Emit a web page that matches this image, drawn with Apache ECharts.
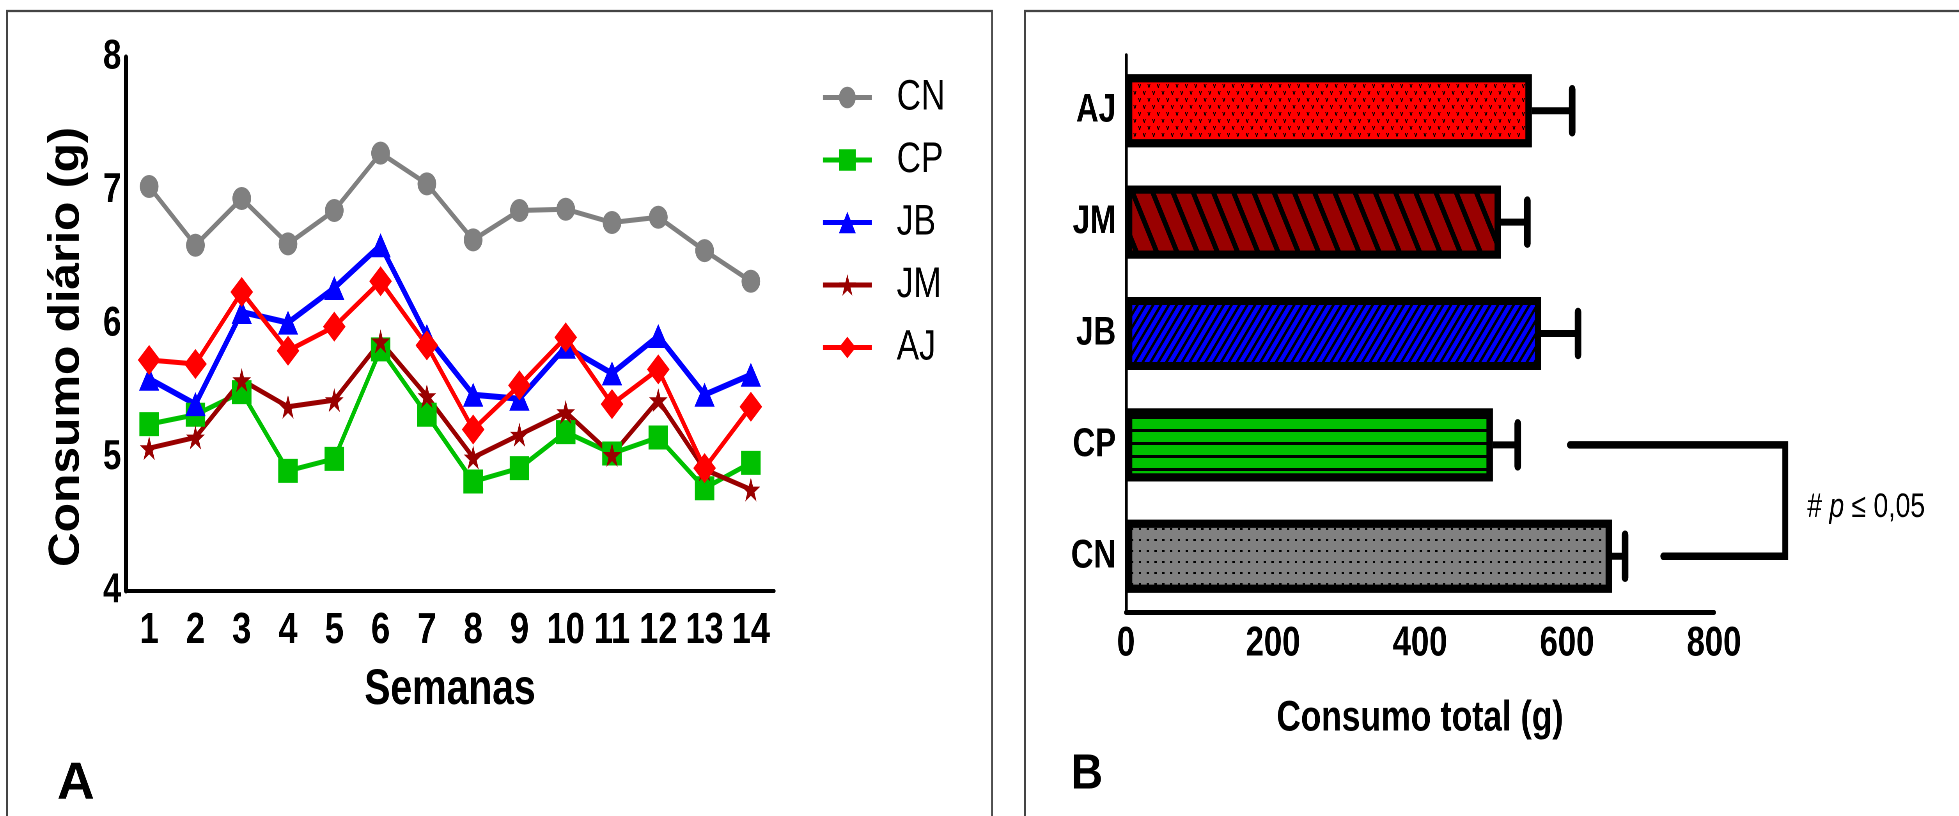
<!DOCTYPE html>
<html>
<head>
<meta charset="utf-8">
<script src="https://cdn.jsdelivr.net/npm/echarts@6/dist/echarts.min.js"></script>
<style>
html,body{margin:0;padding:0;background:#fff;overflow:hidden;width:1959px;height:816px;}
#c{width:2512px;height:816px;transform:scaleX(0.78);transform-origin:0 0;}
</style>
</head>
<body>
<div id="c"></div>
<script>
// ---------- data ----------
const weeks = ['1','2','3','4','5','6','7','8','9','10','11','12','13','14'];
const CN = [7.03,6.59,6.94,6.60,6.85,7.28,7.05,6.63,6.85,6.86,6.76,6.80,6.55,6.32];
const CP = [5.25,5.32,5.49,4.90,4.99,5.81,5.32,4.82,4.92,5.19,5.03,5.15,4.77,4.96];
const JB = [5.59,5.40,6.09,6.01,6.27,6.59,5.91,5.47,5.44,5.83,5.63,5.91,5.47,5.62];
const JM = [5.07,5.15,5.58,5.38,5.43,5.87,5.46,5.00,5.17,5.34,5.02,5.43,4.91,4.76];
const AJ = [5.73,5.70,6.24,5.80,5.98,6.32,5.84,5.21,5.54,5.90,5.40,5.66,4.92,5.38];
const yTicksA = [4,5,6,7,8];

const groups = ['CN','CP','JB','JM','AJ'];          // bottom -> top
const totals = [661,499,565,510,552];
const totalErr = [18,34,50,36,55];
const xTicksB = [0,200,400,600,800];
const sigPair = ['CP','CN'];
const sigLabel = ['# ', 'p', ' ≤ 0,05'];

// ---------- styles ----------
// The whole figure is drawn horizontally condensed (CSS scaleX), as in the reference.
const S = 0.78;
const X = v => v / S;            // screen x -> drawing x
const BOLD = "'Liberation Sans', Arial, sans-serif";
const colors = {CN:'#808080', CP:'#00C000', JB:'#0000FF', JM:'#990000', AJ:'#FF0000'};
const symbols = {
  CN:{symbol:'circle', size:[24,23]},
  CP:{symbol:'rect', size:[25,24]},
  JB:{symbol:'triangle', size:[26,24]},
  JM:{symbol:'path://M50,0 L61,35 L98,35 L68,57 L79,92 L50,70 L21,92 L32,57 L2,35 L39,35 Z', size:[24,24]},
  AJ:{symbol:'diamond', size:[29,30]}
};
const lineData = {CN, CP, JB, JM, AJ};
const decals = {
  CN:{symbol:'rect', symbolSize:1, color:'#000', dashArrayX:[X(2),X(5.3)], dashArrayY:[2,9]},
  CP:{symbol:'rect', symbolSize:1, color:'#000', dashArrayX:[1,0], dashArrayY:[2.5,9.2]},
  JB:{symbol:'rect', symbolSize:1, color:'#000', dashArrayX:[2.5,4.4], dashArrayY:[1,0], rotation:0.65},
  JM:{symbol:'rect', symbolSize:1, color:'#000', dashArrayX:[6,16.3], dashArrayY:[1,0], rotation:-0.48},
  AJ:{symbol:'path://M0,0 L3,0 L5,6 L7,0 L10,0 L6,10 L4,10 Z', symbolSize:1, color:'#000', dashArrayX:[[X(4),X(4)],[0,X(4),X(4),0]], dashArrayY:[4,3]}
};

const chart = echarts.init(document.getElementById('c'), null, {renderer:'canvas', devicePixelRatio:2});

const lineSeries = groups.map(g => ({
  name: g,
  type: 'line',
  xAxisIndex: 0, yAxisIndex: 0,
  data: lineData[g],
  symbol: symbols[g].symbol,
  symbolSize: symbols[g].size,
  symbolKeepAspect: false,
  lineStyle: {color: colors[g], width: g === 'JB' ? 6 : 5},
  itemStyle: {color: colors[g]},
  emphasis: {disabled: true},
  animation: false
}));

const option = {
  backgroundColor: '#fff',
  animation: false,
  grid: [
    {left: X(126), top: 57, width: X(648), height: 534},
    {left: X(1126), top: 55, width: X(588), height: 557}
  ],
  legend: {
    data: groups,
    orient: 'vertical',
    left: X(817), top: 71,
    itemWidth: X(49), itemHeight: 27, itemGap: 19.5,
    selectedMode: false,
    lineStyle: {width: 5},
    textStyle: {fontFamily: BOLD, fontSize: 43, color: '#000', lineHeight: 42, padding: [0,0,0,X(21)]}
  },
  xAxis: [
    {
      gridIndex: 0, type: 'category', data: weeks, boundaryGap: true,
      axisLine: {show: true, lineStyle: {color: '#000', width: 4}},
      axisTick: {show: false},
      axisLabel: {interval: 0, color: '#000', fontFamily: BOLD, fontWeight: 'bold', fontSize: 44, margin: 18},
      splitLine: {show: false},
      name: 'Semanas', nameLocation: 'middle', nameGap: 74,
      nameTextStyle: {color: '#000', fontFamily: BOLD, fontWeight: 'bold', fontSize: 50}
    },
    {
      gridIndex: 1, type: 'value', min: xTicksB[0], max: xTicksB[xTicksB.length-1], interval: xTicksB[1]-xTicksB[0],
      axisLine: {show: true, lineStyle: {color: '#000', width: 5}},
      axisTick: {show: false},
      splitLine: {show: false},
      axisLabel: {color: '#000', fontFamily: BOLD, fontWeight: 'bold', fontSize: 42, margin: 11},
      name: 'Consumo total (g)', nameLocation: 'middle', nameGap: 85,
      nameTextStyle: {color: '#000', fontFamily: BOLD, fontWeight: 'bold', fontSize: 43}
    }
  ],
  yAxis: [
    {
      gridIndex: 0, type: 'value', min: yTicksA[0], max: yTicksA[yTicksA.length-1], interval: 1,
      axisLine: {show: true, lineStyle: {color: '#000', width: 5}},
      axisTick: {show: false},
      splitLine: {show: false},
      axisLabel: {color: '#000', fontFamily: BOLD, fontWeight: 'bold', fontSize: 42, margin: 6}
    },
    {
      gridIndex: 1, type: 'category', data: groups,
      axisLine: {show: true, lineStyle: {color: '#000', width: 3.5}},
      axisTick: {show: false},
      axisLabel: {color: '#000', fontFamily: BOLD, fontWeight: 'bold', fontSize: 40, margin: X(10)}
    }
  ],
  series: [
    ...lineSeries,
    {
      name: 'Consumo total',
      type: 'bar',
      xAxisIndex: 1, yAxisIndex: 1,
      barWidth: 73,
      data: groups.map((g, i) => ({
        value: totals[i],
        itemStyle: {color: colors[g], decal: decals[g], borderColor: '#000', borderWidth: 8}
      })),
      emphasis: {disabled: true}
    },
    {
      name: 'erro',
      type: 'custom',
      xAxisIndex: 1, yAxisIndex: 1,
      clip: false,
      data: groups.map((g, i) => [totals[i], i, totalErr[i]]),
      encode: {x: 0, y: 1},
      renderItem: function (params, api) {
        const v = api.value(0), c = api.value(1), e = api.value(2);
        const p0 = api.coord([v, c]);
        const p1 = api.coord([v + e, c]);
        const h = 43;
        return {
          type: 'group',
          children: [
            {type: 'line', shape: {x1: p0[0], y1: p0[1], x2: p1[0], y2: p1[1]}, style: {stroke: '#000', lineWidth: 7}},
            {type: 'line', shape: {x1: p1[0], y1: p1[1] - h/2, x2: p1[0], y2: p1[1] + h/2}, style: {stroke: '#000', lineWidth: 8.5, lineCap: 'round'}}
          ]
        };
      }
    },
    {
      name: 'sig',
      type: 'custom',
      xAxisIndex: 1, yAxisIndex: 1,
      clip: false,
      data: [[604, 731, 897, groups.indexOf(sigPair[0]), groups.indexOf(sigPair[1])]],
      encode: {x: [0, 1, 2], y: [3, 4]},
      renderItem: function (params, api) {
        const xa = api.value(0), xb = api.value(1), xr = api.value(2);
        const ca = api.value(3), cb = api.value(4);
        const pA = api.coord([xa, ca]);
        const pR1 = api.coord([xr, ca]);
        const pR2 = api.coord([xr, cb]);
        const pB = api.coord([xb, cb]);
        return {
          type: 'group',
          children: [
            {type: 'polyline', shape: {points: [pA, pR1, pR2, pB]},
             style: {stroke: '#000', lineWidth: 7.5, fill: 'none', lineCap: 'round', lineJoin: 'miter'}},
            {type: 'text', x: pR1[0] + X(22), y: (pR1[1] + pR2[1]) / 2 + 7,
             style: {
               text: '{a|' + sigLabel[0] + '}{b|' + sigLabel[1] + '}{a|' + sigLabel[2] + '}',
               rich: {
                 a: {fontFamily: BOLD, fontSize: 34, fill: '#000'},
                 b: {fontFamily: BOLD, fontSize: 34, fontStyle: 'italic', fill: '#000'}
               },
               verticalAlign: 'middle', align: 'left'
             }}
          ]
        };
      }
    }
  ],
  graphic: [
    {type: 'rect', shape: {x: X(7), y: 11, width: X(985), height: 900}, style: {fill: 'none', stroke: '#444', lineWidth: 2.2}, silent: true},
    {type: 'rect', shape: {x: X(1025), y: 11, width: X(960), height: 900}, style: {fill: 'none', stroke: '#444', lineWidth: 2.2}, silent: true},
    {type: 'text', x: X(67), y: 347, rotation: Math.PI / 2, scaleY: 1.15,
     style: {text: 'Consumo diário (g)', font: "bold 48px 'Liberation Sans', Arial, sans-serif", fill: '#000', align: 'center', verticalAlign: 'middle'}},
    {type: 'text', x: X(57), y: 784, scaleX: 1 / S,
     style: {text: 'A', font: "bold 52px 'Liberation Sans', Arial, sans-serif", fill: '#000', align: 'left', verticalAlign: 'middle'}},
    {type: 'text', x: X(1071), y: 775, scaleX: 0.9 / S,
     style: {text: 'B', font: "bold 49px 'Liberation Sans', Arial, sans-serif", fill: '#000', align: 'left', verticalAlign: 'middle'}}
  ]
};

chart.setOption(option);
</script>
</body>
</html>
